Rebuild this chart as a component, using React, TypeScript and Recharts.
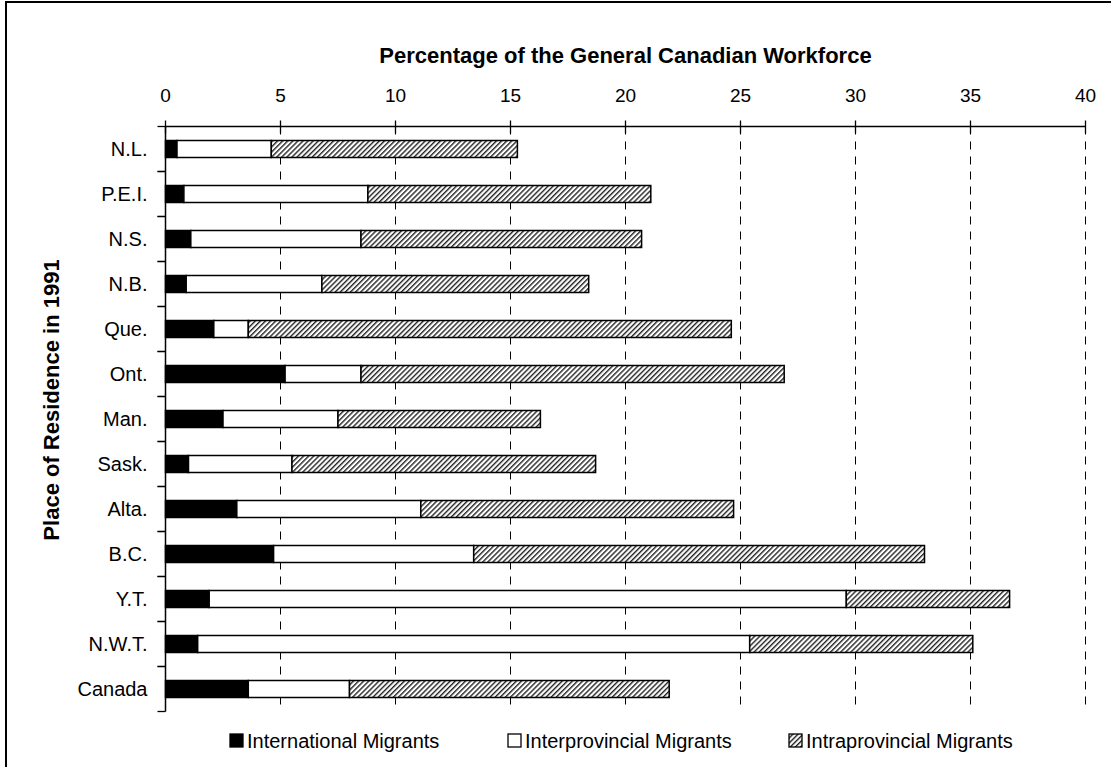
import React from 'react';
import { BarChart, Bar, XAxis, YAxis, CartesianGrid, Legend, Label } from 'recharts';

const categories = ['N.L.', 'P.E.I.', 'N.S.', 'N.B.', 'Que.', 'Ont.', 'Man.', 'Sask.', 'Alta.', 'B.C.', 'Y.T.', 'N.W.T.', 'Canada'];
const international = [0.5, 0.8, 1.1, 0.9, 2.1, 5.2, 2.5, 1.0, 3.1, 4.7, 1.9, 1.4, 3.6];
const interprovincial = [4.1, 8.0, 7.4, 5.9, 1.5, 3.3, 5.0, 4.5, 8.0, 8.7, 27.7, 24.0, 4.4];
const intraprovincial = [10.7, 12.3, 12.2, 11.6, 21.0, 18.4, 8.8, 13.2, 13.6, 19.6, 7.1, 9.7, 13.9];
const xTicks = [0, 5, 10, 15, 20, 25, 30, 35, 40];
const seriesNames = ['International Migrants', 'Interprovincial Migrants', 'Intraprovincial Migrants'];
const titleText = 'Percentage of the General Canadian Workforce';
const yTitleText = 'Place of Residence in 1991';

const data = categories.map((region, i) => ({
  region,
  international: international[i],
  interprovincial: interprovincial[i],
  intraprovincial: intraprovincial[i],
}));

const FONT = '"Liberation Sans", Arial, Helvetica, sans-serif';
const W = 1111;
const H = 767;
const MARGIN = { top: 26.5, right: 25.5, bottom: 55.5, left: 65.5 };
const X_AXIS_H = 100;
const Y_AXIS_W = 100;
const PLOT_H = H - MARGIN.top - X_AXIS_H - MARGIN.bottom;
const BAND = PLOT_H / categories.length;

const fills = ['#000000', '#ffffff', 'url(#hatch)'];
const legendFills = ['#000000', '#ffffff', 'url(#hatchLegend)'];
const legendLefts = [229, 507, 788];

const HatchPattern = ({ id }: { id: string }) => (
  <pattern id={id} patternUnits="userSpaceOnUse" width={3.6} height={3.6} patternTransform="rotate(45)">
    <rect width={3.6} height={3.6} fill="#fff" />
    <line x1={0.7} y1={0} x2={0.7} y2={3.6} stroke="#222" strokeWidth={1.4} />
  </pattern>
);

const XTick = (props: any) => {
  const { x, y, payload } = props;
  return (
    <g>
      <line x1={x} x2={x} y1={y - 6} y2={y + 7} stroke="#000" strokeWidth={1.3} />
      <text x={x} y={y - 24.5} textAnchor="middle" fontFamily={FONT} fontSize={19} fill="#000">
        {payload.value}
      </text>
    </g>
  );
};

const YTick = (props: any) => {
  const { x, y, payload } = props;
  return (
    <g>
      <line x1={x - 8} x2={x} y1={y - BAND / 2} y2={y - BAND / 2} stroke="#000" strokeWidth={1.3} />
      <line x1={x - 8} x2={x} y1={y + BAND / 2} y2={y + BAND / 2} stroke="#000" strokeWidth={1.3} />
      <text x={x - 18} y={y} dy={7} textAnchor="end" fontFamily={FONT} fontSize={20} fill="#000">
        {payload.value}
      </text>
    </g>
  );
};

const LegendContent = () => (
  <div style={{ position: 'relative', width: W, height: 22, fontFamily: FONT, fontSize: 20, color: '#000' }}>
    {seriesNames.map((name, i) => (
      <div key={name} style={{ position: 'absolute', left: legendLefts[i], top: 0, height: 22, display: 'flex', alignItems: 'center' }}>
        <svg width={16} height={16} style={{ display: 'block' }}>
          {i === 2 && (
            <defs>
              <HatchPattern id="hatchLegend" />
            </defs>
          )}
          <rect x={1} y={1} width={13} height={13} fill={legendFills[i]} stroke="#000" strokeWidth={1.3} />
        </svg>
        <span style={{ marginLeft: 2, lineHeight: '22px', whiteSpace: 'nowrap' }}>{name}</span>
      </div>
    ))}
  </div>
);

export default function App() {
  return (
    <div style={{ position: 'absolute', left: 0, top: 0, width: W, height: H, overflow: 'hidden', background: '#fff' }}>
      <div style={{ position: 'absolute', left: 5, top: 1, width: 1300, height: 1000, border: '2px solid #000', boxSizing: 'border-box' }} />
      <div style={{ position: 'absolute', left: 0, top: 0 }}>
        <BarChart layout="vertical" width={W} height={H} data={data} margin={MARGIN} barSize={17}>
          <defs>
            <HatchPattern id="hatch" />
          </defs>
          <CartesianGrid horizontal={false} vertical={true} stroke="#000" strokeWidth={1} strokeDasharray="8 7" />
          <XAxis
            type="number"
            orientation="top"
            domain={[0, 40]}
            ticks={xTicks}
            interval={0}
            height={X_AXIS_H}
            tickSize={0}
            tickMargin={0}
            tickLine={false}
            axisLine={{ stroke: '#000', strokeWidth: 1.5 }}
            tick={<XTick />}
          >
            <Label
              content={(p: any) => {
                const vb = p.viewBox || {};
                const cx = (vb.x ?? MARGIN.left + Y_AXIS_W) + (vb.width ?? 920) / 2;
                return (
                  <text x={cx} y={63} textAnchor="middle" fontFamily={FONT} fontSize={22} fontWeight="bold" fill="#000">
                    {titleText}
                  </text>
                );
              }}
            />
          </XAxis>
          <YAxis
            type="category"
            dataKey="region"
            width={Y_AXIS_W}
            interval={0}
            tickSize={0}
            tickMargin={0}
            tickLine={false}
            axisLine={{ stroke: '#000', strokeWidth: 1.5 }}
            tick={<YTick />}
          >
            <Label
              content={() => (
                <text
                  x={51}
                  y={400}
                  dy={8}
                  transform="rotate(-90, 51, 400)"
                  textAnchor="middle"
                  fontFamily={FONT}
                  fontSize={22}
                  fontWeight="bold"
                  fill="#000"
                >
                  {yTitleText}
                </text>
              )}
            />
          </YAxis>
          <Legend
            layout="horizontal"
            verticalAlign="middle"
            align="center"
            wrapperStyle={{ top: 730, left: 0, width: W }}
            content={<LegendContent />}
          />
          <Bar dataKey="international" name={seriesNames[0]} stackId="s" fill={fills[0]} stroke="#000" strokeWidth={1.5} isAnimationActive={false} />
          <Bar dataKey="interprovincial" name={seriesNames[1]} stackId="s" fill={fills[1]} stroke="#000" strokeWidth={1.5} isAnimationActive={false} />
          <Bar dataKey="intraprovincial" name={seriesNames[2]} stackId="s" fill={fills[2]} stroke="#000" strokeWidth={1.5} isAnimationActive={false} />
        </BarChart>
      </div>
    </div>
  );
}
